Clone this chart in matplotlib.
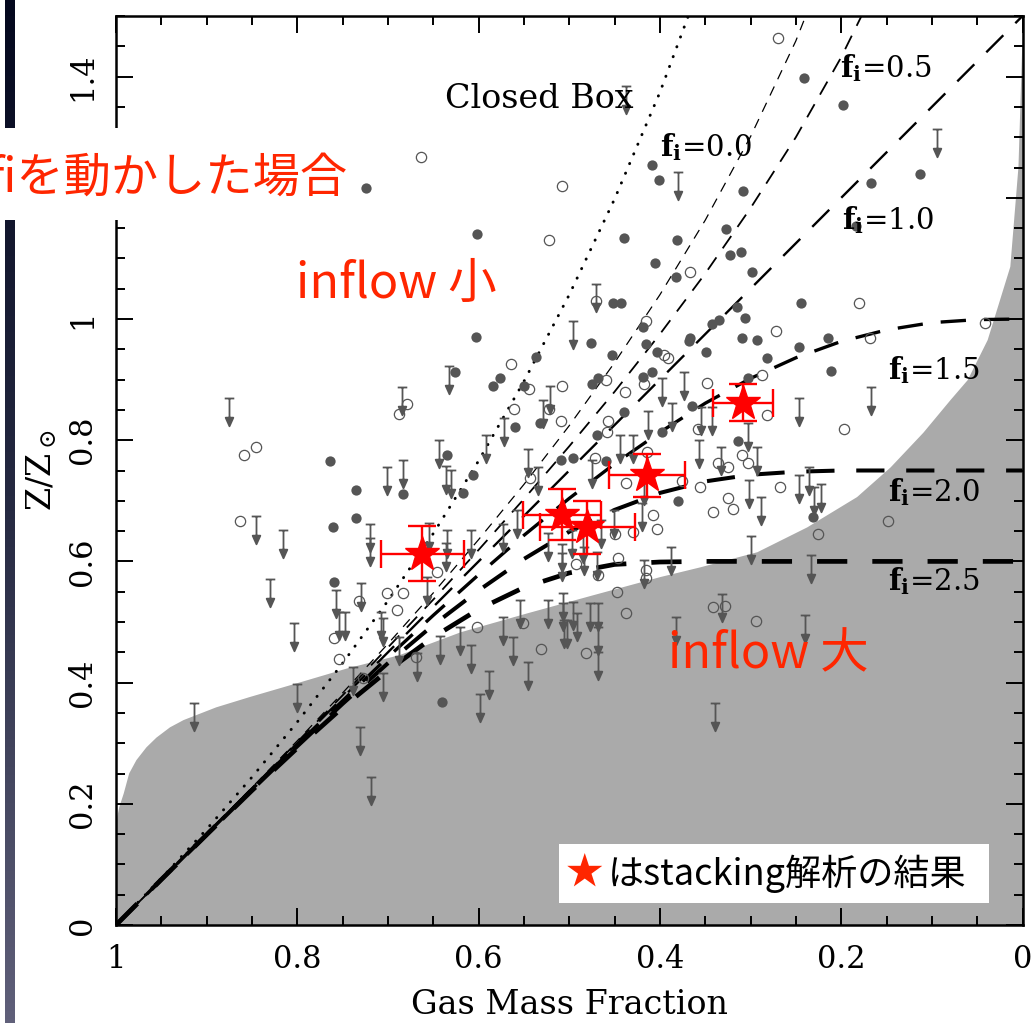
import matplotlib
matplotlib.use("Agg")
import matplotlib.pyplot as plt
import numpy as np
from matplotlib.path import Path
from matplotlib.markers import MarkerStyle
from matplotlib.patches import Rectangle
from matplotlib.colors import LinearSegmentedColormap
from matplotlib.ticker import MultipleLocator, FuncFormatter

plt.rcParams['font.family'] = ['DejaVu Serif']
plt.rcParams['mathtext.fontset'] = 'dejavuserif'

# ---- galaxies: gas mass fraction / metallicity ----
filled_g = [0.724, 0.409, 0.401, 0.602, 0.440, 0.381, 0.405, 0.382, 0.452, 0.443,
            0.419, 0.603, 0.367, 0.241, 0.198, 0.113, 0.167, 0.308, 0.327, 0.184,
            0.323, 0.311, 0.298, 0.244, 0.315, 0.306, 0.342, 0.335, 0.309, 0.293,
            0.215, 0.476, 0.415, 0.403, 0.368, 0.453, 0.537, 0.626, 0.576, 0.584,
            0.550, 0.475, 0.468, 0.419, 0.409, 0.365, 0.560, 0.532, 0.440, 0.469,
            0.398, 0.635, 0.509, 0.496, 0.460, 0.606, 0.683, 0.617, 0.380, 0.764,
            0.735, 0.735, 0.761, 0.760, 0.640, 0.349, 0.282, 0.247, 0.211, 0.303,
            0.314, 0.231]
filled_z = [1.216, 1.254, 1.230, 1.140, 1.133, 1.130, 1.093, 1.069, 1.026, 1.027,
            0.986, 0.971, 0.969, 1.397, 1.353, 1.240, 1.225, 1.211, 1.149, 1.154,
            1.105, 1.111, 1.077, 1.027, 1.019, 1.002, 0.991, 0.998, 0.969, 0.966,
            0.969, 0.960, 0.958, 0.945, 0.963, 0.940, 0.938, 0.913, 0.903, 0.889,
            0.890, 0.892, 0.902, 0.905, 0.912, 0.857, 0.822, 0.829, 0.847, 0.809,
            0.814, 0.776, 0.768, 0.770, 0.765, 0.743, 0.712, 0.713, 0.700, 0.765,
            0.718, 0.672, 0.657, 0.566, 0.368, 0.946, 0.936, 0.953, 0.915, 0.902,
            0.798, 0.674]

open_g = [0.663, 0.508, 0.522, 0.367, 0.470, 0.415, 0.270, 0.180, 0.272, 0.041,
          0.168, 0.396, 0.391, 0.564, 0.544, 0.508, 0.460, 0.417, 0.439, 0.679,
          0.688, 0.561, 0.522, 0.509, 0.457, 0.458, 0.543, 0.472, 0.414, 0.376,
          0.437, 0.408, 0.403, 0.450, 0.430, 0.646, 0.493, 0.446, 0.468, 0.415,
          0.415, 0.447, 0.437, 0.701, 0.683, 0.690, 0.602, 0.531, 0.481, 0.551,
          0.859, 0.846, 0.863, 0.732, 0.760, 0.754, 0.728, 0.669, 0.287, 0.348,
          0.282, 0.197, 0.358, 0.309, 0.336, 0.325, 0.303, 0.356, 0.267, 0.325,
          0.319, 0.341, 0.226, 0.148, 0.341, 0.328, 0.294]
open_z = [1.268, 1.219, 1.130, 1.078, 1.029, 0.996, 1.463, 1.026, 0.981, 0.994,
          0.969, 0.940, 0.936, 0.925, 0.885, 0.890, 0.900, 0.892, 0.879, 0.859,
          0.844, 0.852, 0.851, 0.832, 0.831, 0.813, 0.738, 0.771, 0.781, 0.732,
          0.730, 0.677, 0.654, 0.646, 0.649, 0.583, 0.595, 0.606, 0.578, 0.585,
          0.573, 0.550, 0.515, 0.548, 0.548, 0.520, 0.491, 0.456, 0.449, 0.499,
          0.775, 0.788, 0.666, 0.535, 0.474, 0.439, 0.408, 0.443, 0.908, 0.895,
          0.841, 0.819, 0.819, 0.775, 0.763, 0.756, 0.763, 0.723, 0.722, 0.705,
          0.687, 0.682, 0.646, 0.666, 0.524, 0.527, 0.502]

ulim_g = [0.437, 0.380, 0.094, 0.470, 0.496, 0.633, 0.398, 0.373, 0.685, 0.521,
          0.529, 0.572, 0.413, 0.387, 0.444, 0.430, 0.592, 0.644, 0.546, 0.535,
          0.475, 0.701, 0.683, 0.636, 0.630, 0.418, 0.420, 0.451, 0.720, 0.720,
          0.655, 0.635, 0.636, 0.608, 0.573, 0.558, 0.523, 0.508, 0.508, 0.497,
          0.485, 0.465, 0.484, 0.469, 0.418, 0.388, 0.730, 0.708, 0.706, 0.657,
          0.554, 0.523, 0.507, 0.507, 0.496, 0.477, 0.468, 0.573, 0.562, 0.620,
          0.608, 0.643, 0.668, 0.506, 0.502, 0.492, 0.468, 0.382, 0.545, 0.468,
          0.706, 0.599, 0.588, 0.731, 0.719, 0.914, 0.800, 0.739, 0.339, 0.875,
          0.846, 0.816, 0.830, 0.757, 0.754, 0.747, 0.804, 0.688, 0.167, 0.247,
          0.355, 0.342, 0.303, 0.357, 0.333, 0.293, 0.302, 0.289, 0.247, 0.236,
          0.230, 0.222, 0.299, 0.233, 0.331, 0.240]
ulim_z = [1.384, 1.242, 1.313, 1.057, 0.996, 0.922, 0.903, 0.913, 0.887, 0.889,
          0.867, 0.836, 0.849, 0.862, 0.809, 0.808, 0.808, 0.801, 0.786, 0.756,
          0.768, 0.756, 0.768, 0.758, 0.751, 0.740, 0.697, 0.685, 0.661, 0.639,
          0.664, 0.652, 0.631, 0.651, 0.661, 0.685, 0.647, 0.628, 0.614, 0.652,
          0.644, 0.669, 0.623, 0.616, 0.603, 0.623, 0.565, 0.517, 0.507, 0.575,
          0.537, 0.537, 0.548, 0.532, 0.533, 0.532, 0.532, 0.509, 0.476, 0.492,
          0.462, 0.477, 0.449, 0.504, 0.504, 0.515, 0.492, 0.509, 0.434, 0.451,
          0.416, 0.382, 0.419, 0.327, 0.244, 0.367, 0.398, 0.426, 0.367, 0.870,
          0.675, 0.651, 0.571, 0.552, 0.517, 0.517, 0.499, 0.476, 0.887, 0.870,
          0.854, 0.854, 0.829, 0.801, 0.789, 0.789, 0.735, 0.707, 0.743, 0.756,
          0.723, 0.727, 0.642, 0.611, 0.547, 0.512]

# stacked spectra
stack_g = [0.662, 0.508, 0.480, 0.414, 0.308]
stack_z = [0.613, 0.677, 0.656, 0.742, 0.862]
stack_gerr = [0.046, 0.043, 0.052, 0.042, 0.033]
stack_zerr = [0.045, 0.042, 0.043, 0.036, 0.030]

# excluded region (shaded)
shade_g = [1.0, 0.999, 0.997, 0.992, 0.986, 0.978, 0.967, 0.956, 0.941, 0.926,
           0.890, 0.853, 0.798, 0.746, 0.688, 0.620, 0.547, 0.474, 0.400, 0.356,
           0.293, 0.238, 0.183, 0.146, 0.110, 0.080, 0.061, 0.039, 0.014, 0.005,
           0.001, 0.0]
shade_z = [0.165, 0.180, 0.195, 0.218, 0.251, 0.273, 0.294, 0.310, 0.327, 0.339,
           0.360, 0.377, 0.401, 0.424, 0.446, 0.484, 0.515, 0.545, 0.575, 0.591,
           0.616, 0.657, 0.707, 0.756, 0.813, 0.867, 0.900, 0.966, 1.087, 1.252,
           1.445, 1.5]

# model tracks
mu_grid = [1.0, 0.95, 0.9, 0.85, 0.8, 0.75, 0.7, 0.65, 0.6, 0.55, 0.5,
           0.45, 0.4, 0.35, 0.3, 0.25, 0.2, 0.15, 0.1, 0.05, 0.0]
closed_box = [0.0, 0.077, 0.158, 0.244, 0.335, 0.432, 0.535, 0.646, 0.766,
              0.897, 1.040, 1.198, 1.374, 1.575]
fi_00 = [0.0, 0.075, 0.151, 0.227, 0.304, 0.383, 0.464, 0.548, 0.636, 0.727,
         0.824, 0.928, 1.040, 1.163, 1.301, 1.459, 1.648]
fi_05 = [0.0, 0.075, 0.150, 0.226, 0.302, 0.379, 0.458, 0.537, 0.619, 0.703,
         0.790, 0.880, 0.975, 1.075, 1.183, 1.300, 1.432, 1.584]
fi_10 = [0.0, 0.075, 0.150, 0.225, 0.300, 0.375, 0.450, 0.525, 0.600, 0.675,
         0.750, 0.825, 0.900, 0.975, 1.050, 1.125, 1.200, 1.275, 1.350, 1.425, 1.500]
fi_15 = [0.0, 0.075, 0.150, 0.224, 0.298, 0.370, 0.442, 0.511, 0.578, 0.643,
         0.704, 0.761, 0.813, 0.861, 0.902, 0.936, 0.963, 0.982, 0.994, 0.999, 1.000]
fi_20 = [0.0, 0.075, 0.149, 0.223, 0.295, 0.365, 0.432, 0.495, 0.552, 0.604,
         0.649, 0.685, 0.713, 0.732, 0.743, 0.748, 0.750, 0.750, 0.750, 0.750, 0.750]
fi_25 = [0.0, 0.075, 0.149, 0.222, 0.292, 0.359, 0.420, 0.475, 0.521, 0.557,
         0.581, 0.595, 0.599, 0.600, 0.600, 0.600, 0.600, 0.600, 0.600, 0.600, 0.600]

W, H = 1034, 1023
fig = plt.figure(figsize=(W / 100, H / 100), dpi=100)
ax = fig.add_axes([116 / W, 98 / H, 906.5 / W, 909 / H])

gray = '#555555'
ax.fill_between(shade_g, 0, shade_z, color='#aaaaaa', lw=0, zorder=1)

ax.plot(mu_grid[:len(closed_box)], closed_box, color='k', lw=2.1,
        ls=(0, (0.1, 3.5)), dash_capstyle='round', zorder=2)
tracks = [
    (fi_00, 0.9, (8.0, 6.4)),
    (fi_05, 1.3, (8.3, 6.1)),
    (fi_10, 1.7, (10.2, 7.2)),
    (fi_15, 2.4, (7.6, 5.4)),
    (fi_20, 2.9, (7.0, 5.4)),
    (fi_25, 3.4, (6.4, 5.3)),
]
for zs, lw, dash in tracks:
    ax.plot(mu_grid[:len(zs)], zs, color='k', lw=lw, ls=(0, dash), zorder=2)

# upper limit symbol: cap, stem and arrow head below the value
ulim_path = Path(
    [(-0.5, 0), (0.5, 0), (0, 0), (0, -2.1),
     (-0.4, -2.0), (0.4, -2.0), (0, -2.9), (-0.4, -2.0)],
    [Path.MOVETO, Path.LINETO, Path.MOVETO, Path.LINETO,
     Path.MOVETO, Path.LINETO, Path.LINETO, Path.CLOSEPOLY])
ax.plot(ulim_g, ulim_z, ls='none', marker=MarkerStyle(ulim_path), ms=40,
        mfc=gray, mec=gray, mew=1.3, zorder=3)
ax.plot(open_g, open_z, ls='none', marker='o', ms=7.4, mfc='none',
        mec=gray, mew=0.9, zorder=3)
ax.plot(filled_g, filled_z, ls='none', marker='o', ms=7.4, mfc=gray,
        mec=gray, mew=0, zorder=3)

ax.errorbar(stack_g, stack_z, xerr=stack_gerr, yerr=stack_zerr, fmt='*',
            color='red', ms=26, elinewidth=1.7, capsize=10, capthick=1.7, zorder=6)

# labels inside the panel
ax.text(0.637, 1.348, 'Closed Box', fontsize=24, ha='left', va='baseline', zorder=4)
fi_labels = [('0.0', 0.400, 1.268), ('0.5', 0.201, 1.399), ('1.0', 0.199, 1.148),
             ('1.5', 0.148, 0.900), ('2.0', 0.148, 0.699), ('2.5', 0.148, 0.553)]
for val, gx, zy in fi_labels:
    ax.text(gx, zy, r'$\mathbf{f_i}$=' + val, fontsize=21, ha='left',
            va='baseline', zorder=4)

jp = ['Noto Sans CJK JP', 'DejaVu Sans']
red = '#ff2600'
ax.text(0.801, 1.057, 'inflow 小', family=jp, fontsize=35, color=red,
        ha='left', va='center', zorder=5)
ax.text(0.391, 0.446, 'inflow 大', family=jp, fontsize=35, color=red,
        ha='left', va='center', zorder=5)

ax.add_patch(Rectangle((0.4887, 0.0242), 0.4743, 0.0649, transform=ax.transAxes,
                       facecolor='white', edgecolor='none', zorder=7))
ax.text(0.4955, 0.0565, '★', family=jp, fontsize=27, color=red,
        transform=ax.transAxes, ha='left', va='center', zorder=8)
ax.text(0.5430, 0.0565, 'はstacking解析の結果', family=jp, fontsize=26,
        color='black', transform=ax.transAxes, ha='left', va='center', zorder=8)

ax.set_xlim(1, 0)
ax.set_ylim(0, 1.5)
ax.xaxis.set_major_locator(MultipleLocator(0.2))
ax.xaxis.set_minor_locator(MultipleLocator(0.05))
ax.yaxis.set_major_locator(MultipleLocator(0.2))
ax.yaxis.set_minor_locator(MultipleLocator(0.05))
ax.xaxis.set_major_formatter(FuncFormatter(lambda v, p: f'{v:g}'))
# the 1.2 label sits under the caption box
ax.yaxis.set_major_formatter(FuncFormatter(
    lambda v, p: '' if abs(v - 1.2) < 1e-6 else f'{v:g}'))
ax.tick_params(which='both', direction='in', top=True, right=True, width=1.4)
ax.tick_params(which='major', length=12, labelsize=22)
ax.tick_params(which='minor', length=6.5)
ax.tick_params(axis='x', pad=14)
ax.tick_params(axis='y', pad=13)
for lab in ax.get_yticklabels():
    lab.set_rotation(90)
    lab.set_va('center')
for sp in ax.spines.values():
    sp.set_linewidth(1.8)

ax.set_xlabel('Gas Mass Fraction', fontsize=24, labelpad=10)
ax.set_ylabel(r'Z/Z$_\odot$', fontsize=24, labelpad=6)

# dark slide bar on the far left
bar = fig.add_axes([5 / W, 0, 10 / W, 1])
bar_cmap = LinearSegmentedColormap.from_list('bar', ['#04081e', '#262a42', '#60607a'])
bar.imshow(np.linspace(0, 1, 256).reshape(-1, 1), aspect='auto', cmap=bar_cmap)
bar.axis('off')

# caption box overlapping the axis
fig.add_artist(Rectangle((0, (H - 220) / H), 355 / W, 92 / H, transform=fig.transFigure,
                         facecolor='white', edgecolor='none', zorder=5))
fig.text(-12 / W, (H - 178) / H, 'fiを動かした場合', family=jp, fontsize=34,
         color=red, ha='left', va='center', zorder=6)

fig.savefig('out.png', dpi=100)
